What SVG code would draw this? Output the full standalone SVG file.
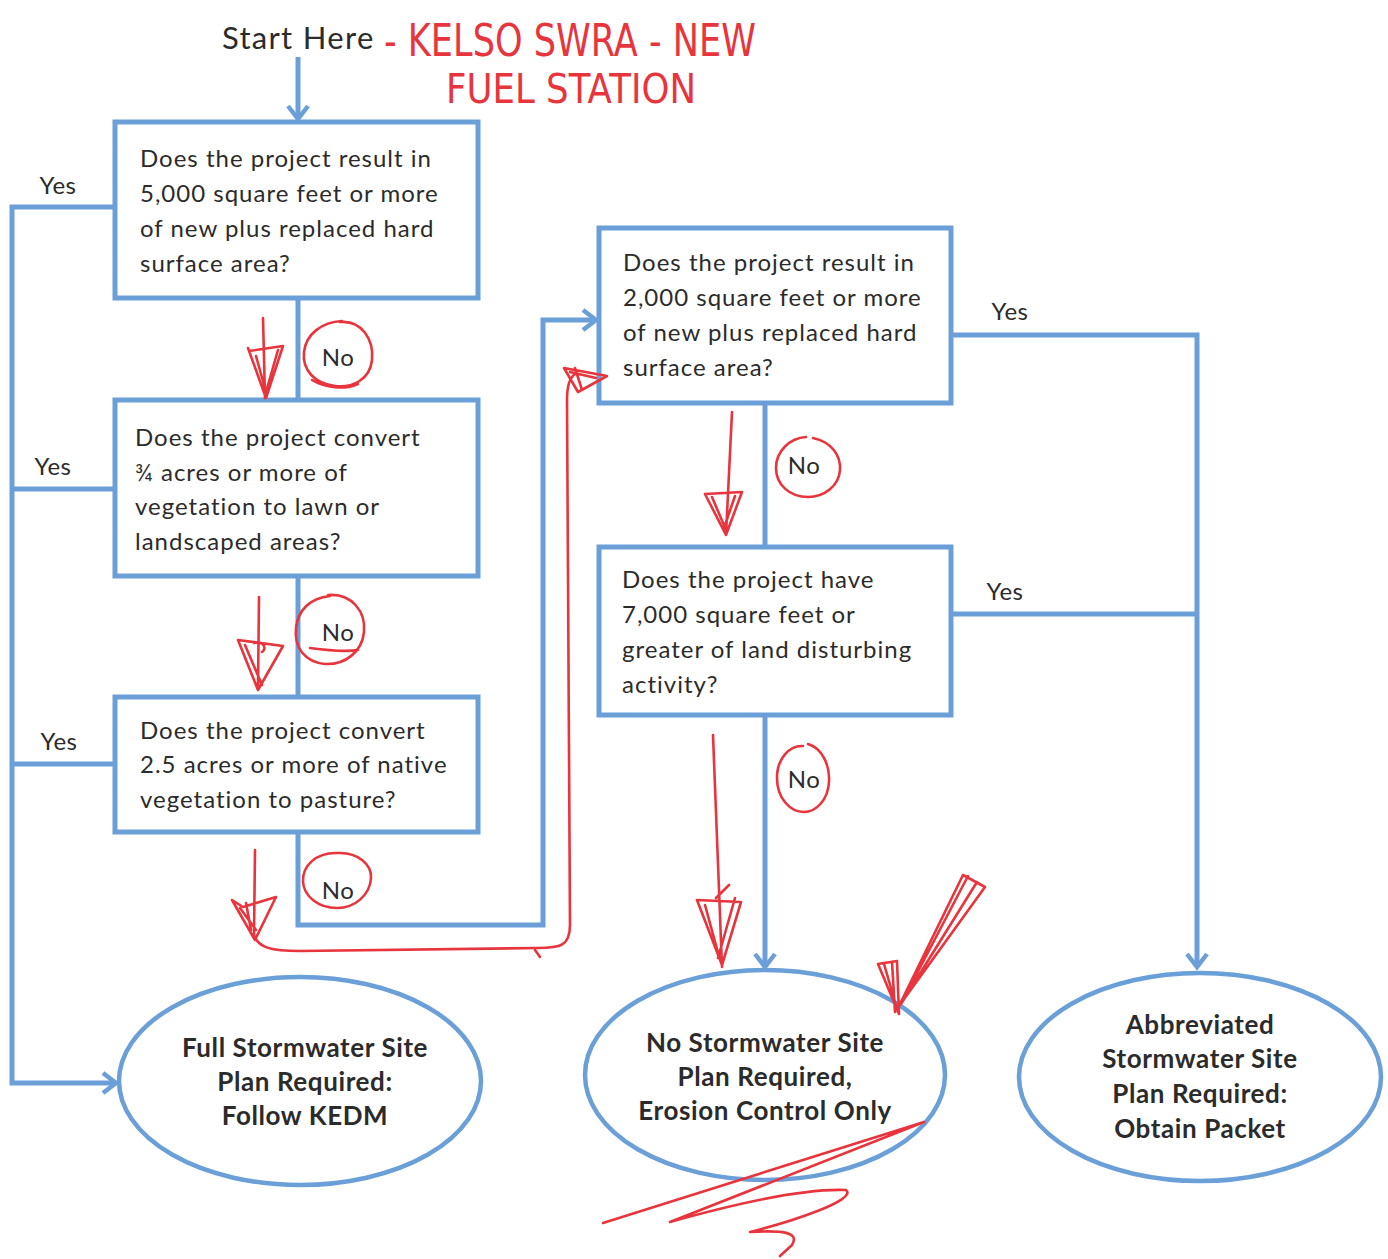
<svg xmlns="http://www.w3.org/2000/svg" width="1388" height="1259" viewBox="0 0 1388 1259">
<style>
  .box { fill: #ffffff; stroke: #6a9fd8; stroke-width: 5; }
  .ell { fill: #ffffff; stroke: #6a9fd8; stroke-width: 4.5; }
  .conn { fill: none; stroke: #6a9fd8; stroke-width: 5; stroke-linejoin: miter; }
  .q { font-family: Lato, "Liberation Sans", sans-serif; font-size: 24px; fill: #2b2b2b; letter-spacing: 1px; }
  .res { font-family: Lato, "Liberation Sans", sans-serif; font-size: 26px; font-weight: bold; fill: #2b2b2b; text-anchor: middle; letter-spacing: 0.6px; }
  .lbl { font-family: Lato, "Liberation Sans", sans-serif; font-size: 24px; fill: #2b2b2b; text-anchor: middle; letter-spacing: 0.5px; }
  .ink { fill: none; stroke: #e8343c; stroke-width: 2.6; stroke-linecap: round; stroke-linejoin: round; }
  .hand { font-family: "DejaVu Sans", sans-serif; font-weight: normal; fill: #e8343c; }
</style>
<defs>
  <marker id="chev" viewBox="-16 -12 20 24" refX="0" refY="0" markerWidth="20" markerHeight="24" markerUnits="userSpaceOnUse" orient="auto">
    <path d="M-13,-10 L0,0 L-13,10" fill="none" stroke="#6a9fd8" stroke-width="4.5"/>
  </marker>
</defs>
<rect width="1388" height="1259" fill="#ffffff"/>

<g id="start">
  <text x="222" y="49" font-family="Lato, 'Liberation Sans', sans-serif" font-size="31" letter-spacing="1.3" fill="#2b2b2b">Start Here</text>
</g>

<g id="connectors">
  <path class="conn" d="M298,57 V119" marker-end="url(#chev)"/>
  <path class="conn" d="M298,298 V400"/>
  <path class="conn" d="M298,576 V697"/>
  <path class="conn" d="M298,832 V925 H543 V320 H596" marker-end="url(#chev)"/>
  <path class="conn" d="M115,207 H12 V1083 H116" marker-end="url(#chev)"/>
  <path class="conn" d="M115,489 H12"/>
  <path class="conn" d="M115,764 H12"/>
  <path class="conn" d="M765,403 V547"/>
  <path class="conn" d="M765,715 V967" marker-end="url(#chev)"/>
  <path class="conn" d="M951,335 H1197 V967" marker-end="url(#chev)"/>
  <path class="conn" d="M951,614 H1197"/>
  <text class="lbl" x="58" y="194">Yes</text>
  <text class="lbl" x="53" y="475">Yes</text>
  <text class="lbl" x="59" y="750">Yes</text>
  <text class="lbl" x="1010" y="320">Yes</text>
  <text class="lbl" x="1005" y="600">Yes</text>
  <text class="lbl" x="338" y="366">No</text>
  <text class="lbl" x="338" y="641">No</text>
  <text class="lbl" x="338" y="899">No</text>
  <text class="lbl" x="804" y="474">No</text>
  <text class="lbl" x="804" y="788">No</text>
</g>

<g id="q1">
  <rect class="box" x="115" y="122" width="363" height="176"/>
  <text class="q" x="140" y="167">Does the project result in</text>
  <text class="q" x="140" y="202">5,000 square feet or more</text>
  <text class="q" x="140" y="237">of new plus replaced hard</text>
  <text class="q" x="140" y="272">surface area?</text>
</g>
<g id="q2">
  <rect class="box" x="115" y="400" width="363" height="176"/>
  <text class="q" x="135" y="446">Does the project convert</text>
  <text class="q" x="135" y="481">¾ acres or more of</text>
  <text class="q" x="135" y="515">vegetation to lawn or</text>
  <text class="q" x="135" y="550">landscaped areas?</text>
</g>
<g id="q3">
  <rect class="box" x="115" y="697" width="363" height="135"/>
  <text class="q" x="140" y="739">Does the project convert</text>
  <text class="q" x="140" y="773">2.5 acres or more of native</text>
  <text class="q" x="140" y="808">vegetation to pasture?</text>
</g>
<g id="q4">
  <rect class="box" x="599" y="228" width="352" height="175"/>
  <text class="q" x="623" y="271">Does the project result in</text>
  <text class="q" x="623" y="306">2,000 square feet or more</text>
  <text class="q" x="623" y="341">of new plus replaced hard</text>
  <text class="q" x="623" y="376">surface area?</text>
</g>
<g id="q5">
  <rect class="box" x="599" y="547" width="352" height="168"/>
  <text class="q" x="622" y="588">Does the project have</text>
  <text class="q" x="622" y="623">7,000 square feet or</text>
  <text class="q" x="622" y="658">greater of land disturbing</text>
  <text class="q" x="622" y="693">activity?</text>
</g>
<g id="r1">
  <ellipse class="ell" cx="300" cy="1081" rx="181" ry="104"/>
  <text class="res" x="305" y="1057">Full Stormwater Site</text>
  <text class="res" x="305" y="1091">Plan Required:</text>
  <text class="res" x="305" y="1125">Follow KEDM</text>
</g>
<g id="r2">
  <ellipse class="ell" cx="765" cy="1075" rx="180" ry="105"/>
  <text class="res" x="765" y="1052">No Stormwater Site</text>
  <text class="res" x="765" y="1086">Plan Required,</text>
  <text class="res" x="765" y="1120">Erosion Control Only</text>
</g>
<g id="r3">
  <ellipse class="ell" cx="1200" cy="1077" rx="181" ry="104"/>
  <text class="res" x="1200" y="1034">Abbreviated</text>
  <text class="res" x="1200" y="1068">Stormwater Site</text>
  <text class="res" x="1200" y="1103">Plan Required:</text>
  <text class="res" x="1200" y="1138">Obtain Packet</text>
</g>

<g id="annotations">
  <text class="hand" x="384" y="56" font-size="44" textLength="372" lengthAdjust="spacingAndGlyphs">- KELSO SWRA - NEW</text>
  <text class="hand" x="446" y="103" font-size="40" textLength="250" lengthAdjust="spacingAndGlyphs">FUEL STATION</text>
  <!-- arrow 1 -->
  <path class="ink" d="M263,318 L265,398 M248,348 L266,398 L283,346 L249,351 M256,356 L266,392 L278,350"/>
  <path class="ink" d="M340,322 C362,320 374,340 372,360 C370,380 352,388 335,386 C315,384 302,370 304,352 C306,334 322,322 342,321 M312,380 C325,388 345,390 358,384"/>
  <!-- arrow 2 -->
  <path class="ink" d="M259,597 L258,688 M238,640 L283,646 L258,690 Z M245,645 L262,685 M254,643 C262,640 268,648 262,652"/>
  <path class="ink" d="M328,595 C352,593 366,612 364,632 C362,652 345,665 325,664 C305,662 294,648 296,628 C298,610 310,598 330,596 M310,648 C325,650 345,652 358,650"/>
  <!-- arrow 3 path -->
  <path class="ink" d="M255,850 L254,935 M232,900 L243,907 L276,897 L255,940 Z M240,908 L256,930 M246,903 L251,930"/>
  <path class="ink" d="M254,935 C258,948 272,951 300,951 L538,948 C560,948 570,946 570,925 L567,400 C567,386 569,378 575,374"/>
  <path class="ink" d="M535,950 L540,957"/>
  <path class="ink" d="M564,368 L607,376 L578,392 Z M575,368 L582,390 M570,372 L596,378"/>
  <path class="ink" d="M338,853 C358,852 372,865 371,878 C370,895 355,908 337,908 C318,908 304,896 303,882 C302,866 316,852 338,853"/>
  <!-- arrow 4 -->
  <path class="ink" d="M732,412 L726,535 M705,494 L742,492 L726,535 Z M712,497 L726,530 M735,496 L724,528"/>
  <path class="ink" d="M813,438 C832,442 841,456 840,470 C839,486 824,497 808,497 C790,497 776,485 776,468 C776,451 790,438 806,437"/>
  <!-- arrow 5 -->
  <path class="ink" d="M713,735 L722,967 M697,900 L741,902 L722,965 Z M705,905 L720,960 M735,898 L718,958 M716,898 L729,885"/>
  <path class="ink" d="M808,744 C822,748 830,765 829,782 C828,800 816,812 804,812 C790,812 777,798 777,778 C777,758 790,745 803,746"/>
  <!-- check mark -->
  <path class="ink" d="M963,875 L985,887 L899,1006 Z M968,876 L902,1002 M977,882 L901,1004 M878,964 L897,961 L899,1014 Z M884,964 L898,1012 M892,962 L895,1012"/>
  <!-- scribble -->
  <path class="ink" d="M603,1223 L924,1122 L670,1222 C720,1208 800,1188 846,1190 C858,1200 790,1222 750,1232 C782,1230 800,1232 792,1245 L780,1256"/>
</g>
</svg>
